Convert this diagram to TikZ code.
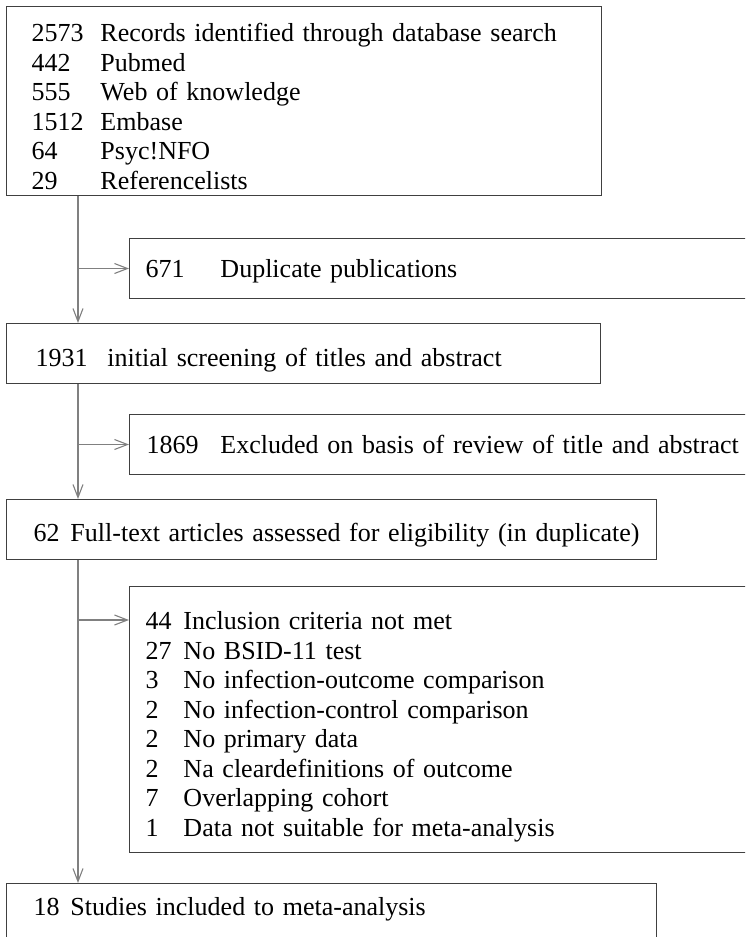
\documentclass[tikz,border=0pt]{standalone}
\usepackage{fontspec}
\setmainfont{Liberation Serif}
\usetikzlibrary{arrows.meta}

\begin{document}
\begin{tikzpicture}[x=1pt,y=-1pt]

		\tikzstyle{stage} = [rectangle, draw=black!75, line width=1pt, anchor=north west, align=left, inner ysep=0pt, font=\fontsize{26}{29.57}\selectfont]
		
		\tikzstyle{links} = [-{Straight Barb[length=13pt,width=10pt]}, line width=1.1pt, black!50]
		
		\useasboundingbox (0,0) rectangle (745,937);
		\clip (0,0) rectangle (745,937);
		
		\coordinate (trunk) at (78,0);
		
		\node[stage, inner xsep=25pt, text width=545pt, text height=35pt, text depth=154pt] at (6,6) (records) {\makebox[69pt][l]{2573}Records identified through database search\\ \makebox[69pt][l]{442}Pubmed\\ \makebox[69pt][l]{555}Web of knowledge\\ \makebox[69pt][l]{1512}Embase\\ \makebox[69pt][l]{64}Psyc!NFO\\ \makebox[69pt][l]{29}Referencelists};
		
		\node[stage, inner xsep=16pt, text width=639pt, text height=39pt, text depth=21pt] at (129,238) (dup) {\makebox[75pt][l]{671}Duplicate publications};
		
		\node[stage, inner xsep=29pt, text width=536pt, text height=43pt, text depth=17pt] at (6,323) (screen) {\makebox[72pt][l]{1931}initial screening of titles and abstract};
		
		\node[stage, inner xsep=17pt, text width=637pt, text height=39pt, text depth=21pt] at (129,414) (excl) {\makebox[74pt][l]{1869}Excluded on basis of review of title and abstract};
		
		\node[stage, inner xsep=27pt, text width=596pt, text height=42pt, text depth=18pt] at (6,499) (full) {\mbox{\makebox[37pt][l]{62}Full-text articles assessed for eligibility (in duplicate)}};
		
		\node[stage, inner xsep=16pt, text width=639pt, text height=43pt, text depth=223pt] at (129,586) (crit) {\makebox[38pt][l]{44}Inclusion criteria not met\\ \makebox[38pt][l]{27}No BSID-11 test\\ \makebox[38pt][l]{3}No infection-outcome comparison\\ \makebox[38pt][l]{2}No infection-control comparison\\ \makebox[38pt][l]{2}No primary data\\ \makebox[38pt][l]{2}Na cleardefinitions of outcome\\ \makebox[38pt][l]{7}Overlapping cohort\\ \makebox[38pt][l]{1}Data not suitable for meta-analysis};
		
		\node[stage, inner xsep=27pt, text width=596pt, text height=32pt, text depth=40pt] at (6,883) (included) {\makebox[37pt][l]{18}Studies included to meta-analysis};
		
		\coordinate (critin) at ([yshift=-34pt]crit.north west);
		
		\draw[links] (records.south -| trunk) -- (screen.north -| trunk);
		\draw[links] (screen.south -| trunk) -- (full.north -| trunk);
		\draw[links] (full.south -| trunk) -- (included.north -| trunk);
		
		\draw[links] (trunk |- dup.west) -- (dup.west);
		\draw[links] (trunk |- excl.west) -- (excl.west);
		\draw[links] (trunk |- critin) -- (critin);
	\end{tikzpicture}
\end{document}
